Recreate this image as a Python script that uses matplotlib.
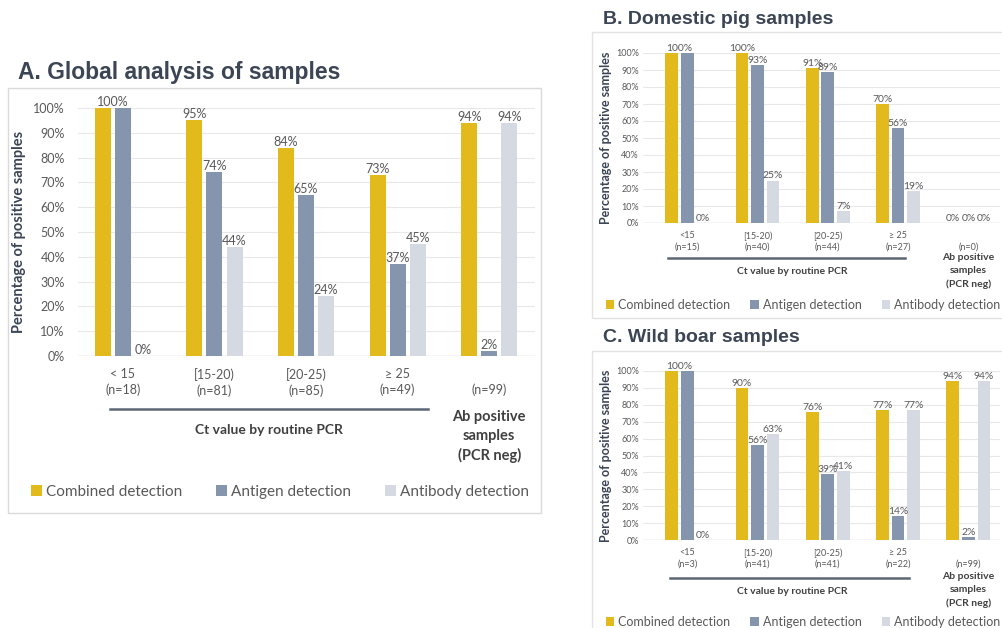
import matplotlib.pyplot as plt
import matplotlib.transforms as mtransforms
from matplotlib.patches import Rectangle

series_names = ['Combined detection', 'Antigen detection', 'Antibody detection']

# A. Global analysis
a_groups = ['< 15', '[15-20)', '[20-25)', '≥ 25', '']
a_counts = [18, 81, 85, 49, 99]
a_combined = [100, 95, 84, 73, 94]
a_antigen = [100, 74, 65, 37, 2]
a_antibody = [0, 44, 24, 45, 94]

# B. Domestic pig
b_groups = ['<15', '[15-20)', '[20-25)', '≥ 25', '']
b_counts = [15, 40, 44, 27, 0]
b_combined = [100, 100, 91, 70, 0]
b_antigen = [100, 93, 89, 56, 0]
b_antibody = [0, 25, 7, 19, 0]

# C. Wild boar
c_groups = ['<15', '[15-20)', '[20-25)', '≥ 25', '']
c_counts = [3, 41, 41, 22, 99]
c_combined = [100, 90, 76, 77, 94]
c_antigen = [100, 56, 39, 14, 2]
c_antibody = [0, 63, 41, 77, 94]

colors = ['#E3BA1B', '#8595AE', '#D5DAE2']
TXT = '#595959'
DARK = '#3A4454'

W, H = 1003, 628
plt.rcParams['font.family'] = ['Lato', 'DejaVu Sans']
fig = plt.figure(figsize=(W / 100, H / 100), dpi=100)


def fx(px):
    return px / W


def fy(py):
    return 1 - py / H


def panel(box, xl, values, groups, counts, title, title_y, s, lay):
    left, top, right, bottom = box
    ax = fig.add_axes([fx(left), fy(bottom), fx(right - left), (bottom - top) / H])
    width, step = s['bw'], s['step']
    for k, vals in enumerate(values):
        xs = [i + (k - 1) * step for i in range(len(vals))]
        ax.bar(xs, vals, width, color=colors[k], label=series_names[k], zorder=3)
    # value labels; two equal full-height labels side by side merge into one
    for i in range(len(values[0])):
        k = 0
        while k < len(values):
            v = values[k][i]
            x = i + (k - 1) * step
            if k + 1 < len(values) and values[k + 1][i] == v == 100:
                x += step / 2
                k += 1
            ax.text(x, v, f'{v}%', ha='center', va='bottom', fontsize=s['lab'],
                    color=TXT, zorder=4)
            k += 1
    ax.set_ylim(0, 100)
    ax.set_xlim(*xl)
    ax.set_yticks(range(0, 101, 10))
    ax.set_yticklabels([f'{t}%' for t in range(0, 101, 10)])
    ax.yaxis.grid(True, color='#E8E8E8', lw=0.8, zorder=0)
    ax.set_axisbelow(True)
    for sp in ax.spines.values():
        sp.set_visible(False)
    ax.axhline(0, color='#D9D9D9', lw=1, zorder=2)
    labels = [f'{g}\n(n={n})' for g, n in zip(groups, counts)]
    ax.set_xticks(range(len(groups)))
    ax.set_xticklabels(labels, fontsize=s['tick'], color=TXT, linespacing=1.25)
    ax.tick_params(axis='x', length=0, pad=s['xpad'])
    ax.tick_params(axis='y', length=0, pad=s['ypad'], labelsize=s['tick'], labelcolor=TXT)
    ax.set_ylabel('Percentage of positive samples', fontsize=s['ylab'],
                  fontweight='bold', color=DARK, labelpad=s['ylpad'])
    tr = mtransforms.blended_transform_factory(ax.transData, fig.transFigure)
    ax.plot(lay['line_x'], [fy(lay['line_y'])] * 2, color='#5B6675', lw=1.8,
            transform=tr, clip_on=False)
    ax.text(lay['ct_x'], fy(lay['ct_y']), 'Ct value by routine PCR', transform=tr,
            ha='center', va='center', fontsize=s['ct'], fontweight='bold', color='#404040')
    ax.text(4, fy(lay['ab_y']), 'Ab positive\nsamples\n(PCR neg)', transform=tr,
            ha='center', va='top', fontsize=s['ab'], fontweight='bold', color='#404040',
            linespacing=s['ab_ls'])
    fig.text(fx(lay['title_x']), fy(title_y), title, fontsize=s['title'],
             fontweight='bold', color='#3B4554', family='Liberation Sans', va='center')
    handles, labs = ax.get_legend_handles_labels()
    fig.legend(handles, labs, loc='center', bbox_to_anchor=(fx(lay['leg_x']), fy(lay['leg_y'])),
               ncol=3, frameon=False, fontsize=s['leg'], handlelength=0.7,
               handleheight=0.7, handletextpad=0.3, columnspacing=s['colsp'],
               labelcolor=TXT)
    return ax


# panel frames
fig.patches.append(Rectangle((fx(8), fy(513)), fx(533), (513 - 88) / H,
                             transform=fig.transFigure, fill=False, ec='#DADADA', lw=1))
fig.patches.append(Rectangle((fx(592), fy(318)), fx(420), (318 - 32) / H,
                             transform=fig.transFigure, fill=False, ec='#E3E3E3', lw=1))
fig.patches.append(Rectangle((fx(592), fy(640)), fx(420), (640 - 351) / H,
                             transform=fig.transFigure, fill=False, ec='#E3E3E3', lw=1))

sA = dict(bw=0.175, step=0.219, lab=9, tick=9, xpad=9, ypad=9.5, ylab=10.5, ylpad=5,
          ct=10, ab=10.5, ab_ls=1.45, title=16.5, leg=11, colsp=2.2)
panel((78, 108, 535, 356), (-0.49, 4.50), [a_combined, a_antigen, a_antibody],
      a_groups, a_counts, 'A. Global analysis of samples', 72, sA,
      dict(line_x=[-0.14, 3.33], line_y=409, ct_x=1.6, ct_y=430, ab_y=410, title_x=18,
           leg_x=280, leg_y=492))

sB = dict(bw=0.18, step=0.222, lab=7.5, tick=6.5, xpad=6, ypad=3, ylab=9, ylpad=2.5,
          ct=7.5, ab=7.5, ab_ls=1.6, title=14, leg=9, colsp=1.6)
panel((643, 53, 1000, 223), (-0.63, 4.45), [b_combined, b_antigen, b_antibody],
      b_groups, b_counts, 'B. Domestic pig samples', 19, sB,
      dict(line_x=[-0.27, 3.10], line_y=258, ct_x=1.5, ct_y=272, ab_y=253, title_x=603,
           leg_x=803, leg_y=305))

panel((643, 371, 1000, 540), (-0.63, 4.45), [c_combined, c_antigen, c_antibody],
      c_groups, c_counts, 'C. Wild boar samples', 338, sB,
      dict(line_x=[-0.24, 3.16], line_y=578, ct_x=1.5, ct_y=592, ab_y=572, title_x=603,
           leg_x=803, leg_y=622))

fig.savefig('out.png', dpi=100)
